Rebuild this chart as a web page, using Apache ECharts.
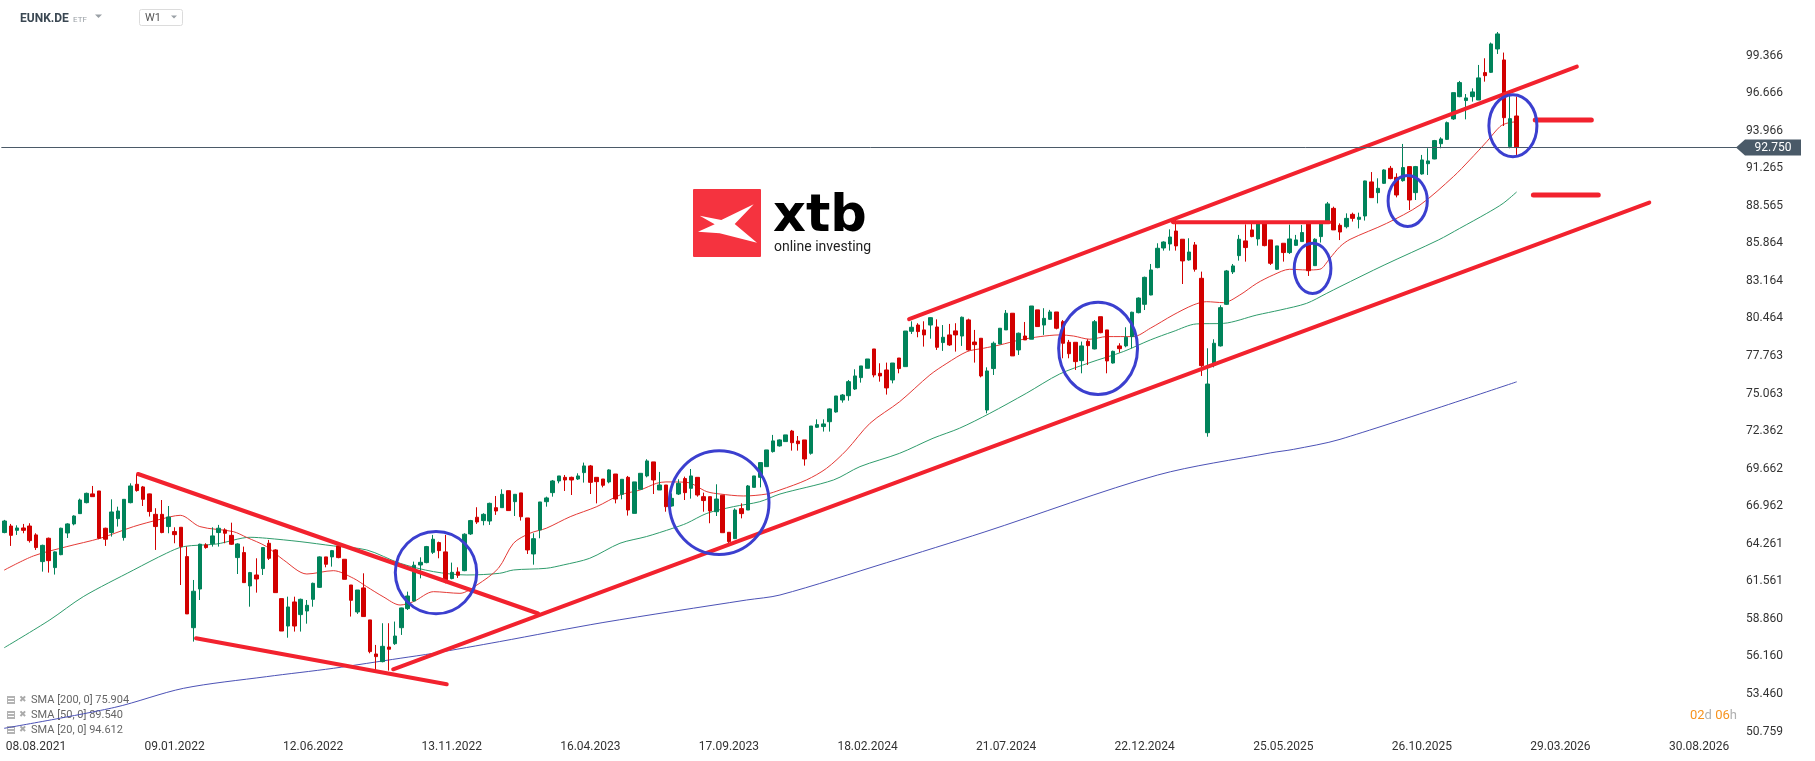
<!DOCTYPE html>
<html>
<head>
<meta charset="utf-8">
<title>EUNK.DE W1</title>
<script src="https://cdn.jsdelivr.net/npm/echarts@6/dist/echarts.min.js"></script>
<style>
  html, body { margin: 0; padding: 0; background: #fff; }
  #chart { width: 1815px; height: 761px; }
</style>
</head>
<body>
<div id="chart"></div>
<script>
// weekly candles, first one is the week of 04.07.2021 (index 0 of the category axis)
const firstWeek = Date.UTC(2021, 6, 4);
const weekCount = 276;

const xTickLabels = ['08.08.2021', '09.01.2022', '12.06.2022', '13.11.2022', '16.04.2023', '17.09.2023',
  '18.02.2024', '21.07.2024', '22.12.2024', '25.05.2025', '26.10.2025', '29.03.2026', '30.08.2026'];
const firstLabelIndex = 5;
const labelStep = 22;

const yTickLabels = ['50.759', '53.460', '56.160', '58.860', '61.561', '64.261', '66.962', '69.662', '72.362',
  '75.063', '77.763', '80.464', '83.164', '85.864', '88.565', '91.265', '93.966', '96.666', '99.366'];
const yMin = 50.759;
const yStep = 2.700389;
const yMax = 103.36;

// [open, close, low, high]
const candles = [
  [65.07, 65.90, 65.02, 65.98], [65.54, 64.87, 64.11, 65.69], [65.23, 65.40, 64.90, 65.59], [65.40, 65.23, 65.02, 65.69],
  [65.54, 64.49, 64.35, 65.74], [64.90, 63.99, 63.82, 65.02], [62.98, 64.15, 62.26, 64.20], [64.66, 63.05, 62.19, 64.71],
  [62.55, 63.68, 62.05, 63.72], [63.48, 65.38, 63.44, 65.42], [65.04, 65.69, 64.68, 65.74], [65.69, 66.26, 65.59, 66.31],
  [66.43, 67.41, 66.41, 67.51], [67.22, 67.89, 67.17, 67.94], [67.85, 67.65, 67.65, 68.42], [68.06, 64.66, 64.59, 68.06],
  [65.38, 64.59, 64.11, 65.42], [65.07, 66.55, 64.78, 67.46], [66.07, 66.62, 65.50, 66.93], [64.71, 67.46, 64.49, 67.46],
  [67.22, 68.42, 67.17, 68.61], [68.54, 68.09, 68.01, 69.28], [68.35, 67.46, 66.98, 68.42], [67.85, 66.58, 66.22, 67.87],
  [66.38, 65.50, 63.82, 66.82], [66.38, 65.07, 65.02, 67.41], [65.50, 66.19, 65.02, 66.98], [65.14, 64.92, 64.30, 65.45],
  [65.45, 64.06, 61.30, 65.45], [63.34, 59.22, 59.22, 64.06], [58.23, 60.85, 57.23, 61.66], [61.01, 64.23, 60.22, 64.27],
  [64.18, 63.99, 63.91, 64.30], [64.27, 64.83, 64.06, 65.45], [65.07, 65.38, 64.06, 65.62], [65.26, 65.02, 64.30, 65.38],
  [64.87, 64.23, 64.18, 65.78], [63.27, 64.25, 62.09, 64.30], [63.63, 61.47, 61.47, 64.06], [61.23, 62.19, 59.74, 62.24],
  [62.02, 61.73, 60.75, 63.22], [62.48, 63.99, 62.02, 63.99], [64.30, 63.22, 63.10, 64.54], [63.82, 60.75, 60.75, 63.87],
  [60.32, 57.99, 57.99, 60.32], [58.35, 59.72, 57.51, 60.46], [60.08, 58.35, 57.95, 60.46], [59.17, 60.27, 57.95, 60.32],
  [59.43, 59.84, 58.52, 60.22], [60.27, 61.42, 59.74, 61.47], [61.13, 63.32, 61.09, 63.36], [63.32, 62.79, 62.57, 63.32],
  [63.32, 63.77, 62.62, 63.82], [64.11, 63.27, 63.22, 64.18], [63.15, 61.71, 61.71, 63.15], [61.30, 60.20, 59.03, 61.30],
  [59.36, 60.94, 59.22, 60.94], [61.09, 59.03, 59.03, 62.14], [58.79, 56.51, 56.39, 58.79], [56.34, 56.15, 55.19, 56.99],
  [55.79, 56.89, 55.74, 58.55], [56.84, 56.68, 55.14, 58.55], [57.08, 57.63, 56.99, 58.67], [58.23, 59.65, 57.71, 59.67],
  [59.60, 60.51, 59.50, 60.82], [60.15, 62.72, 60.10, 62.98], [62.74, 62.93, 61.78, 63.29], [62.91, 64.06, 62.86, 64.11],
  [63.65, 64.59, 63.53, 64.90], [64.35, 63.77, 63.22, 64.42], [63.68, 61.54, 61.42, 64.90], [61.76, 62.21, 61.71, 62.91],
  [62.24, 62.00, 61.81, 62.57], [62.33, 64.95, 62.29, 65.02], [64.97, 65.93, 64.90, 65.98], [66.17, 65.83, 65.69, 66.89],
  [65.93, 66.38, 65.59, 66.46], [65.90, 67.17, 65.62, 67.22], [66.86, 66.62, 66.34, 67.70], [66.86, 67.82, 66.86, 68.18],
  [68.08, 66.65, 66.65, 68.08], [67.29, 67.82, 66.26, 67.82], [67.92, 66.21, 65.93, 67.92], [66.12, 63.82, 63.53, 66.12],
  [63.53, 64.63, 62.76, 65.02], [65.26, 67.27, 64.66, 67.27], [67.29, 67.56, 66.93, 67.65], [67.94, 68.78, 67.65, 68.85],
  [68.78, 69.14, 68.61, 69.14], [69.04, 68.85, 68.06, 69.21], [69.04, 68.85, 67.77, 69.09], [68.92, 69.14, 68.85, 69.33],
  [69.38, 69.86, 68.66, 70.10], [69.86, 68.68, 67.84, 69.93], [69.04, 68.73, 67.17, 69.04], [68.92, 68.47, 68.32, 68.92],
  [68.71, 69.57, 68.61, 69.62], [69.28, 67.48, 67.17, 69.28], [67.82, 68.90, 67.46, 68.90], [69.04, 66.69, 66.29, 69.14],
  [66.45, 68.71, 66.45, 68.71], [68.18, 69.33, 68.18, 69.33], [69.14, 70.22, 69.04, 70.34], [70.15, 68.85, 67.84, 70.15],
  [68.13, 68.49, 68.13, 69.43], [68.49, 66.93, 66.57, 68.49], [66.98, 67.53, 66.93, 67.89], [67.84, 68.61, 67.77, 68.90],
  [68.95, 67.94, 67.41, 69.09], [68.25, 69.14, 67.51, 69.64], [69.04, 67.77, 67.65, 69.04], [67.65, 67.37, 66.57, 67.94],
  [67.65, 66.62, 65.74, 67.65], [66.57, 67.48, 66.26, 68.54], [67.75, 65.06, 65.06, 67.75], [65.09, 64.42, 64.25, 65.09],
  [64.63, 66.69, 64.63, 66.81], [66.79, 66.43, 66.09, 67.17], [66.69, 68.42, 66.69, 68.49], [68.32, 69.14, 68.32, 69.14],
  [69.04, 70.10, 68.32, 70.10], [69.81, 71.01, 69.81, 71.01], [70.89, 71.66, 70.82, 72.09], [71.30, 71.73, 71.25, 71.77],
  [71.61, 72.09, 71.61, 72.09], [72.37, 71.53, 70.96, 72.45], [71.65, 71.46, 70.96, 72.01], [71.73, 70.36, 69.88, 71.73],
  [70.77, 72.73, 70.67, 72.73], [72.64, 72.83, 72.59, 73.21], [72.69, 72.88, 72.33, 73.21], [73.04, 73.96, 72.33, 74.00],
  [73.74, 74.89, 73.69, 74.89], [74.60, 74.96, 74.41, 75.03], [74.91, 75.92, 74.55, 76.04], [75.39, 76.33, 75.32, 76.81],
  [76.21, 77.05, 75.85, 77.05], [76.88, 77.55, 76.88, 77.55], [78.27, 76.40, 76.23, 78.27], [76.52, 76.33, 75.92, 77.24],
  [76.76, 75.47, 74.99, 77.29], [76.04, 77.26, 75.80, 77.26], [77.62, 76.86, 76.52, 77.62], [77.00, 79.56, 77.00, 79.56],
  [79.54, 79.83, 79.35, 80.26], [79.99, 79.52, 79.11, 80.12], [79.64, 79.28, 78.44, 80.26], [79.99, 80.52, 79.01, 80.55],
  [79.85, 78.39, 78.20, 80.40], [78.73, 79.11, 78.13, 79.99], [79.28, 78.56, 78.49, 80.07], [79.57, 79.28, 78.08, 80.12],
  [79.20, 80.55, 78.49, 80.60], [80.36, 78.20, 78.15, 80.45], [78.77, 78.58, 77.29, 79.64], [79.04, 76.33, 76.23, 79.04],
  [73.88, 76.69, 73.64, 76.95], [76.86, 78.68, 76.40, 78.80], [78.63, 79.76, 78.61, 79.76], [79.64, 80.84, 79.64, 81.07],
  [80.84, 77.77, 77.77, 80.84], [78.20, 79.40, 77.84, 79.45], [79.20, 78.92, 78.92, 80.21], [78.97, 81.36, 78.97, 81.36],
  [81.08, 79.88, 79.88, 81.08], [79.99, 80.47, 79.28, 81.20], [80.40, 80.93, 80.36, 81.08], [80.93, 79.76, 79.68, 80.93],
  [80.23, 78.68, 77.60, 80.35], [78.75, 77.93, 77.60, 78.92], [78.75, 77.36, 76.76, 78.75], [77.43, 78.49, 76.52, 78.80],
  [78.82, 78.51, 77.12, 78.97], [78.27, 80.23, 78.24, 80.35], [80.59, 79.44, 79.40, 80.59], [79.64, 77.41, 76.52, 79.64],
  [77.26, 78.10, 77.22, 78.15], [78.49, 78.29, 78.01, 78.68], [78.49, 79.11, 78.39, 79.83], [79.16, 80.91, 78.32, 80.95],
  [80.88, 81.93, 80.83, 81.98], [81.48, 83.42, 81.07, 83.47], [82.15, 83.95, 82.13, 84.38], [84.12, 85.51, 84.07, 85.87],
  [85.53, 85.96, 85.34, 86.01], [85.82, 86.32, 85.34, 86.87], [86.75, 85.68, 85.34, 87.55], [86.16, 84.60, 82.94, 86.16],
  [84.67, 85.24, 84.62, 86.23], [85.75, 84.00, 83.83, 85.96], [83.35, 77.07, 76.33, 83.83], [72.25, 75.75, 71.96, 78.32],
  [77.09, 78.68, 76.95, 78.97], [78.49, 81.24, 78.44, 81.41], [81.48, 83.88, 81.43, 83.95], [83.81, 84.24, 83.66, 84.38],
  [84.98, 86.16, 84.62, 86.47], [86.04, 85.56, 84.55, 87.23], [86.83, 86.35, 86.30, 87.26], [86.18, 87.31, 85.70, 87.31],
  [87.31, 85.70, 85.65, 87.31], [86.11, 84.43, 84.31, 86.11], [84.00, 85.68, 83.95, 85.68], [85.87, 85.20, 84.55, 85.87],
  [85.20, 86.18, 85.10, 87.21], [85.72, 86.11, 85.68, 86.47], [85.99, 86.64, 85.99, 87.19], [87.31, 83.90, 83.52, 87.31],
  [84.26, 86.16, 84.24, 86.23], [86.35, 87.38, 85.92, 87.43], [87.40, 88.70, 87.35, 88.84], [88.38, 86.83, 86.83, 88.50],
  [87.16, 86.68, 86.10, 87.30], [87.06, 87.66, 86.94, 88.02], [87.95, 87.66, 87.43, 88.07], [87.59, 87.74, 86.94, 88.07],
  [87.83, 90.35, 87.50, 90.37], [90.28, 89.15, 89.15, 90.99], [89.51, 89.82, 88.74, 90.54], [90.18, 91.14, 90.13, 91.19],
  [91.26, 90.52, 90.47, 91.43], [90.61, 89.34, 89.17, 90.90], [90.37, 91.31, 90.30, 93.01], [91.38, 88.98, 88.26, 91.38],
  [89.51, 91.38, 88.98, 91.43], [90.85, 91.86, 90.80, 92.22], [91.59, 91.79, 90.78, 92.70], [91.93, 93.25, 91.91, 93.30],
  [93.03, 93.37, 92.70, 93.49], [93.34, 94.54, 93.30, 94.62], [94.81, 96.70, 94.74, 96.70], [96.41, 97.42, 96.37, 97.54],
  [96.13, 96.32, 94.78, 96.60], [96.41, 96.75, 96.05, 97.01], [96.17, 97.76, 96.17, 98.69], [98.14, 97.92, 97.49, 99.17],
  [98.16, 100.20, 98.11, 100.30], [99.84, 100.92, 99.48, 101.06], [99.05, 94.90, 94.30, 99.58], [92.82, 94.83, 92.70, 96.60],
  [95.02, 92.75, 92.22, 96.41]
];

// moving averages: [week index (0 = 08.08.2021), value]
const sma20 = [[-5, 62.38], [-0.4, 63.39], [4.9, 64.06], [10.2, 64.66], [15.5, 65.50], [19.7, 66.02], [22.9, 66.31],
  [26, 65.50], [31.3, 65.14], [33.4, 64.73], [36.6, 64.06], [39.3, 63.10], [43, 62.09], [47.2, 62.33], [50.4, 61.78],
  [52.5, 61.18], [55.1, 60.46], [57.8, 59.86], [59.9, 60.10], [63.1, 60.82], [67.3, 60.70], [70, 61.30], [73.4, 62.50],
  [75.8, 64.30], [78.4, 65.02], [81, 65.38], [84.8, 66.21], [89, 66.93], [92.7, 67.77], [95.9, 68.13], [98.5, 68.61],
  [100, 68.71], [103.3, 68.68], [106.5, 68.01], [108.6, 67.84], [112.3, 67.70], [116, 67.84], [118.1, 68.13],
  [122.3, 68.85], [125.5, 69.69], [128.7, 71.01], [132.4, 72.93], [137.1, 74.48], [141.9, 76.40], [144.6, 77.24],
  [147.8, 78.08], [150.4, 78.32], [153, 78.56], [156.2, 78.92], [159.4, 79.16], [162.5, 79.28], [164.7, 79.20],
  [167.3, 78.97], [170, 79.16], [174.2, 79.16], [176.9, 79.76], [180.5, 80.71], [183.7, 81.43], [185.8, 81.67],
  [188.5, 81.60], [191.1, 82.15], [193.8, 82.99], [196.4, 83.59], [199, 84.00], [201.7, 83.95], [203.8, 84.00],
  [205.4, 84.79], [207, 85.63], [208.6, 86.15], [214.4, 87.30], [219.7, 88.62], [225, 90.66], [227.6, 91.86],
  [230.3, 93.18], [232.4, 94.26], [233.5, 94.50], [235, 94.61]];
const sma50 = [[-5, 56.80], [2.2, 58.79], [7.5, 60.46], [15.5, 62.38], [20.7, 63.58], [23.4, 64.06], [28.7, 64.25],
  [34, 64.73], [36.6, 64.66], [41.9, 64.42], [47.2, 64.11], [52.5, 63.82], [57.8, 62.86], [63.1, 62.26], [68.4, 62.02],
  [73.6, 62.14], [75.8, 62.38], [81, 62.50], [83.7, 62.74], [87.9, 63.22], [92.7, 64.30], [96.9, 64.78], [101.1, 65.38],
  [103.3, 65.74], [106.5, 66.45], [110.7, 66.93], [114.9, 67.29], [118.1, 67.84], [126.6, 68.85], [130.8, 69.81],
  [137.1, 70.77], [142.4, 71.85], [146.6, 72.57], [151.4, 73.64], [157.2, 75.08], [162.5, 76.47], [167.3, 77.29],
  [172.6, 78.08], [176.9, 78.92], [180.5, 79.52], [184.2, 80.07], [188.5, 80.11], [193.8, 80.71], [197.5, 81.07],
  [201.7, 81.55], [204.9, 82.27], [207, 82.75], [214, 84.30], [222.6, 86.10], [226, 86.94], [230.3, 88.02],
  [232.9, 88.74], [235, 89.54]];
const sma200 = [[-5, 51.00], [12.5, 52.50], [23.4, 53.87], [36.6, 54.71], [47.2, 55.31], [57.8, 56.03], [63.1, 56.39],
  [73.6, 57.23], [90, 58.60], [112.8, 60.22], [118.1, 60.58], [135, 62.90], [150.5, 65.10], [178, 69.20], [196, 70.80],
  [199.6, 71.05], [207, 71.77], [235, 75.90]];

// drawn lines: [[week, price], [week, price]]
const trendLines = [
  [[16.2, 69.28], [79.7, 59.25]],
  [[25.4, 57.47], [65.2, 54.16]],
  [[56.7, 55.24], [256.1, 88.80]],
  [[138.6, 80.41], [244.6, 98.57]],
  [[180.5, 87.38], [205.3, 87.38]]
];
const targetLines = [
  [[238, 94.73], [246.9, 94.73]],
  [[237.7, 89.34], [248, 89.34]]
];
// circles: [week left, week right, price top, price bottom]
const circles = [
  [56.8, 70.2, 65.26, 59.12],
  [100.3, 116.6, 71.06, 63.39],
  [162.1, 175.1, 81.74, 74.89],
  [199.5, 205.8, 85.98, 82.15],
  [214.4, 221.1, 90.85, 86.97],
  [230.4, 238.5, 96.66, 91.98]
];

const lastPrice = 92.75;
const legendRows = ['SMA [200, 0] 75.904', 'SMA [50, 0] 89.540', 'SMA [20, 0] 94.612'];

const pad = (n) => (n < 10 ? '0' : '') + n;
const categories = [];
for (let i = 0; i < weekCount; i++) {
  const d = new Date(firstWeek + i * 7 * 86400000);
  categories.push(pad(d.getUTCDate()) + '.' + pad(d.getUTCMonth() + 1) + '.' + d.getUTCFullYear());
}

const green = '#00835a';
const red = '#d20000';
const lineRed = '#f2222e';

const lineSeries = (data, color, width, z) => ({
  type: 'line', xAxisIndex: 1, yAxisIndex: 0, data: data, showSymbol: false, silent: true,
  smooth: 0.3, z: z, lineStyle: { color: color, width: width, cap: 'round' }
});

const chart = echarts.init(document.getElementById('chart'));

const option = {
  animation: false,
  backgroundColor: '#ffffff',
  textStyle: { fontFamily: 'Roboto' },
  grid: { left: 1.35, right: 75, top: 0, bottom: 29.4 },
  xAxis: [
    {
      type: 'category', data: categories, boundaryGap: true,
      axisLine: { show: false }, axisTick: { show: false }, splitLine: { show: false },
      axisLabel: {
        interval: (i) => i >= firstLabelIndex && (i - firstLabelIndex) % labelStep === 0,
        formatter: (v, i) => xTickLabels[(i - firstLabelIndex) / labelStep] || '',
        color: '#333', fontSize: 12, margin: 9, fontFamily: 'Roboto'
      }
    },
    { type: 'value', min: -5.5, max: 270.5, show: false }
  ],
  yAxis: {
    type: 'value', position: 'right', min: yMin, max: yMax, interval: yStep,
    splitLine: { show: false }, axisLine: { show: false }, axisTick: { show: false },
    axisLabel: {
      formatter: (v) => {
        const i = Math.round((v - yMin) / yStep);
        return i >= 0 && i < yTickLabels.length ? yTickLabels[i] : '';
      },
      color: '#333', fontSize: 12, margin: 6, fontFamily: 'Roboto', showMaxLabel: false
    }
  },
  series: [
    lineSeries(sma200, '#4c52b6', 1, 2),
    lineSeries(sma50, '#2f9c6c', 1, 2),
    lineSeries(sma20, '#e43a36', 1, 2),
    {
      type: 'candlestick', data: candles, barWidth: 4, z: 3,
      itemStyle: { color: green, color0: red, borderColor: green, borderColor0: red, borderWidth: 1 },
      markLine: {
        silent: true, symbol: 'none', animation: false,
        lineStyle: { color: '#4b5a68', width: 1, type: 'solid' },
        label: { show: false },
        data: [{ yAxis: lastPrice }]
      }
    },
    ...trendLines.map((l) => lineSeries(l, lineRed, 4, 4)),
    ...targetLines.map((l) => lineSeries(l, lineRed, 5, 4)),
    {
      type: 'custom', xAxisIndex: 1, yAxisIndex: 0, data: circles, z: 5, silent: true,
      encode: { x: [0, 1], y: [2, 3] },
      renderItem: (params, api) => {
        const a = api.coord([api.value(0), api.value(2)]);
        const b = api.coord([api.value(1), api.value(3)]);
        return {
          type: 'ellipse',
          shape: { cx: (a[0] + b[0]) / 2, cy: (a[1] + b[1]) / 2, rx: Math.abs(b[0] - a[0]) / 2 - 1.5, ry: Math.abs(b[1] - a[1]) / 2 - 1.5 },
          style: { fill: 'none', stroke: '#3b3fcf', lineWidth: 3 }
        };
      }
    }
  ]
};
chart.setOption(option);

// decorations: header, legend, logo, price tag, countdown
const py = chart.convertToPixel({ yAxisIndex: 0 }, lastPrice);
const graphics = [
  { type: 'text', x: 20, y: 18.5, style: { text: 'EUNK.DE', font: 'bold 12px Roboto', fill: '#3a4752', verticalAlign: 'middle' } },
  { type: 'text', x: 73, y: 19.5, style: { text: 'ETF', font: '8px Roboto', fill: '#9aa0a6', verticalAlign: 'middle' } },
  { type: 'polygon', shape: { points: [[95, 14.5], [102, 14.5], [98.5, 18]] }, style: { fill: '#9aa0a6' } },
  { type: 'rect', shape: { x: 139.5, y: 9.5, width: 43, height: 16, r: 2 }, style: { fill: '#fff', stroke: '#dcdcdc', lineWidth: 1 } },
  { type: 'text', x: 145, y: 18, style: { text: 'W1', font: '11px Roboto', fill: '#555', verticalAlign: 'middle' } },
  { type: 'polygon', shape: { points: [[171, 15.5], [177, 15.5], [174, 18.5]] }, style: { fill: '#9aa0a6' } },
  // logo
  { type: 'rect', shape: { x: 693, y: 189, width: 68, height: 68, r: 1 }, style: { fill: '#f5333f' } },
  { type: 'polygon', shape: { points: [[699.7, 215.7], [721.3, 220], [753.7, 204.3], [734.7, 224], [757, 242.7], [719.7, 233.3], [698, 231.7], [714.7, 224.3]] }, style: { fill: '#fff' } },
  { type: 'text', x: 773, y: 218, style: { text: 'xtb', font: 'bold 51px "DejaVu Sans"', fill: '#000', verticalAlign: 'middle' } },
  { type: 'text', x: 774, y: 247.5, style: { text: 'online investing', font: '14px Roboto', fill: '#222', verticalAlign: 'middle' } },
  // price tag
  { type: 'polygon', z: 10, shape: { points: [[1736, py], [1745, py - 8], [1801, py - 8], [1801, py + 8], [1745, py + 8]] }, style: { fill: '#4a5a68' } },
  { type: 'text', z: 11, x: 1773, y: py, style: { text: lastPrice.toFixed(3), font: '12px Roboto', fill: '#fff', align: 'center', verticalAlign: 'middle' } },
  // countdown
  { type: 'text', x: 1737, y: 716, style: { text: '{o|02}{g|d} {o|06}{g|h}', align: 'right', verticalAlign: 'middle',
    rich: { o: { fill: '#f7931e', font: '13px Roboto' }, g: { fill: '#b0b0b0', font: '13px Roboto' } } } }
];
legendRows.forEach((t, i) => {
  const y = 700 + i * 15;
  graphics.push(
    { type: 'rect', shape: { x: 7, y: y - 4, width: 8, height: 8 }, style: { fill: '#b3b3b3' } },
    { type: 'line', shape: { x1: 8, y1: y - 1.5, x2: 14, y2: y - 1.5 }, style: { stroke: '#fff', lineWidth: 1 } },
    { type: 'line', shape: { x1: 8, y1: y + 1.5, x2: 14, y2: y + 1.5 }, style: { stroke: '#fff', lineWidth: 1 } },
    { type: 'text', x: 19, y: y, style: { text: '\u2716', font: '9px "DejaVu Sans"', fill: '#aaa', verticalAlign: 'middle' } },
    { type: 'text', x: 31, y: y, style: { text: t, font: '11px Roboto', fill: '#666', verticalAlign: 'middle' } }
  );
});
chart.setOption({ graphic: graphics });

window.addEventListener('resize', () => {
  chart.resize();
});
</script>
</body>
</html>
